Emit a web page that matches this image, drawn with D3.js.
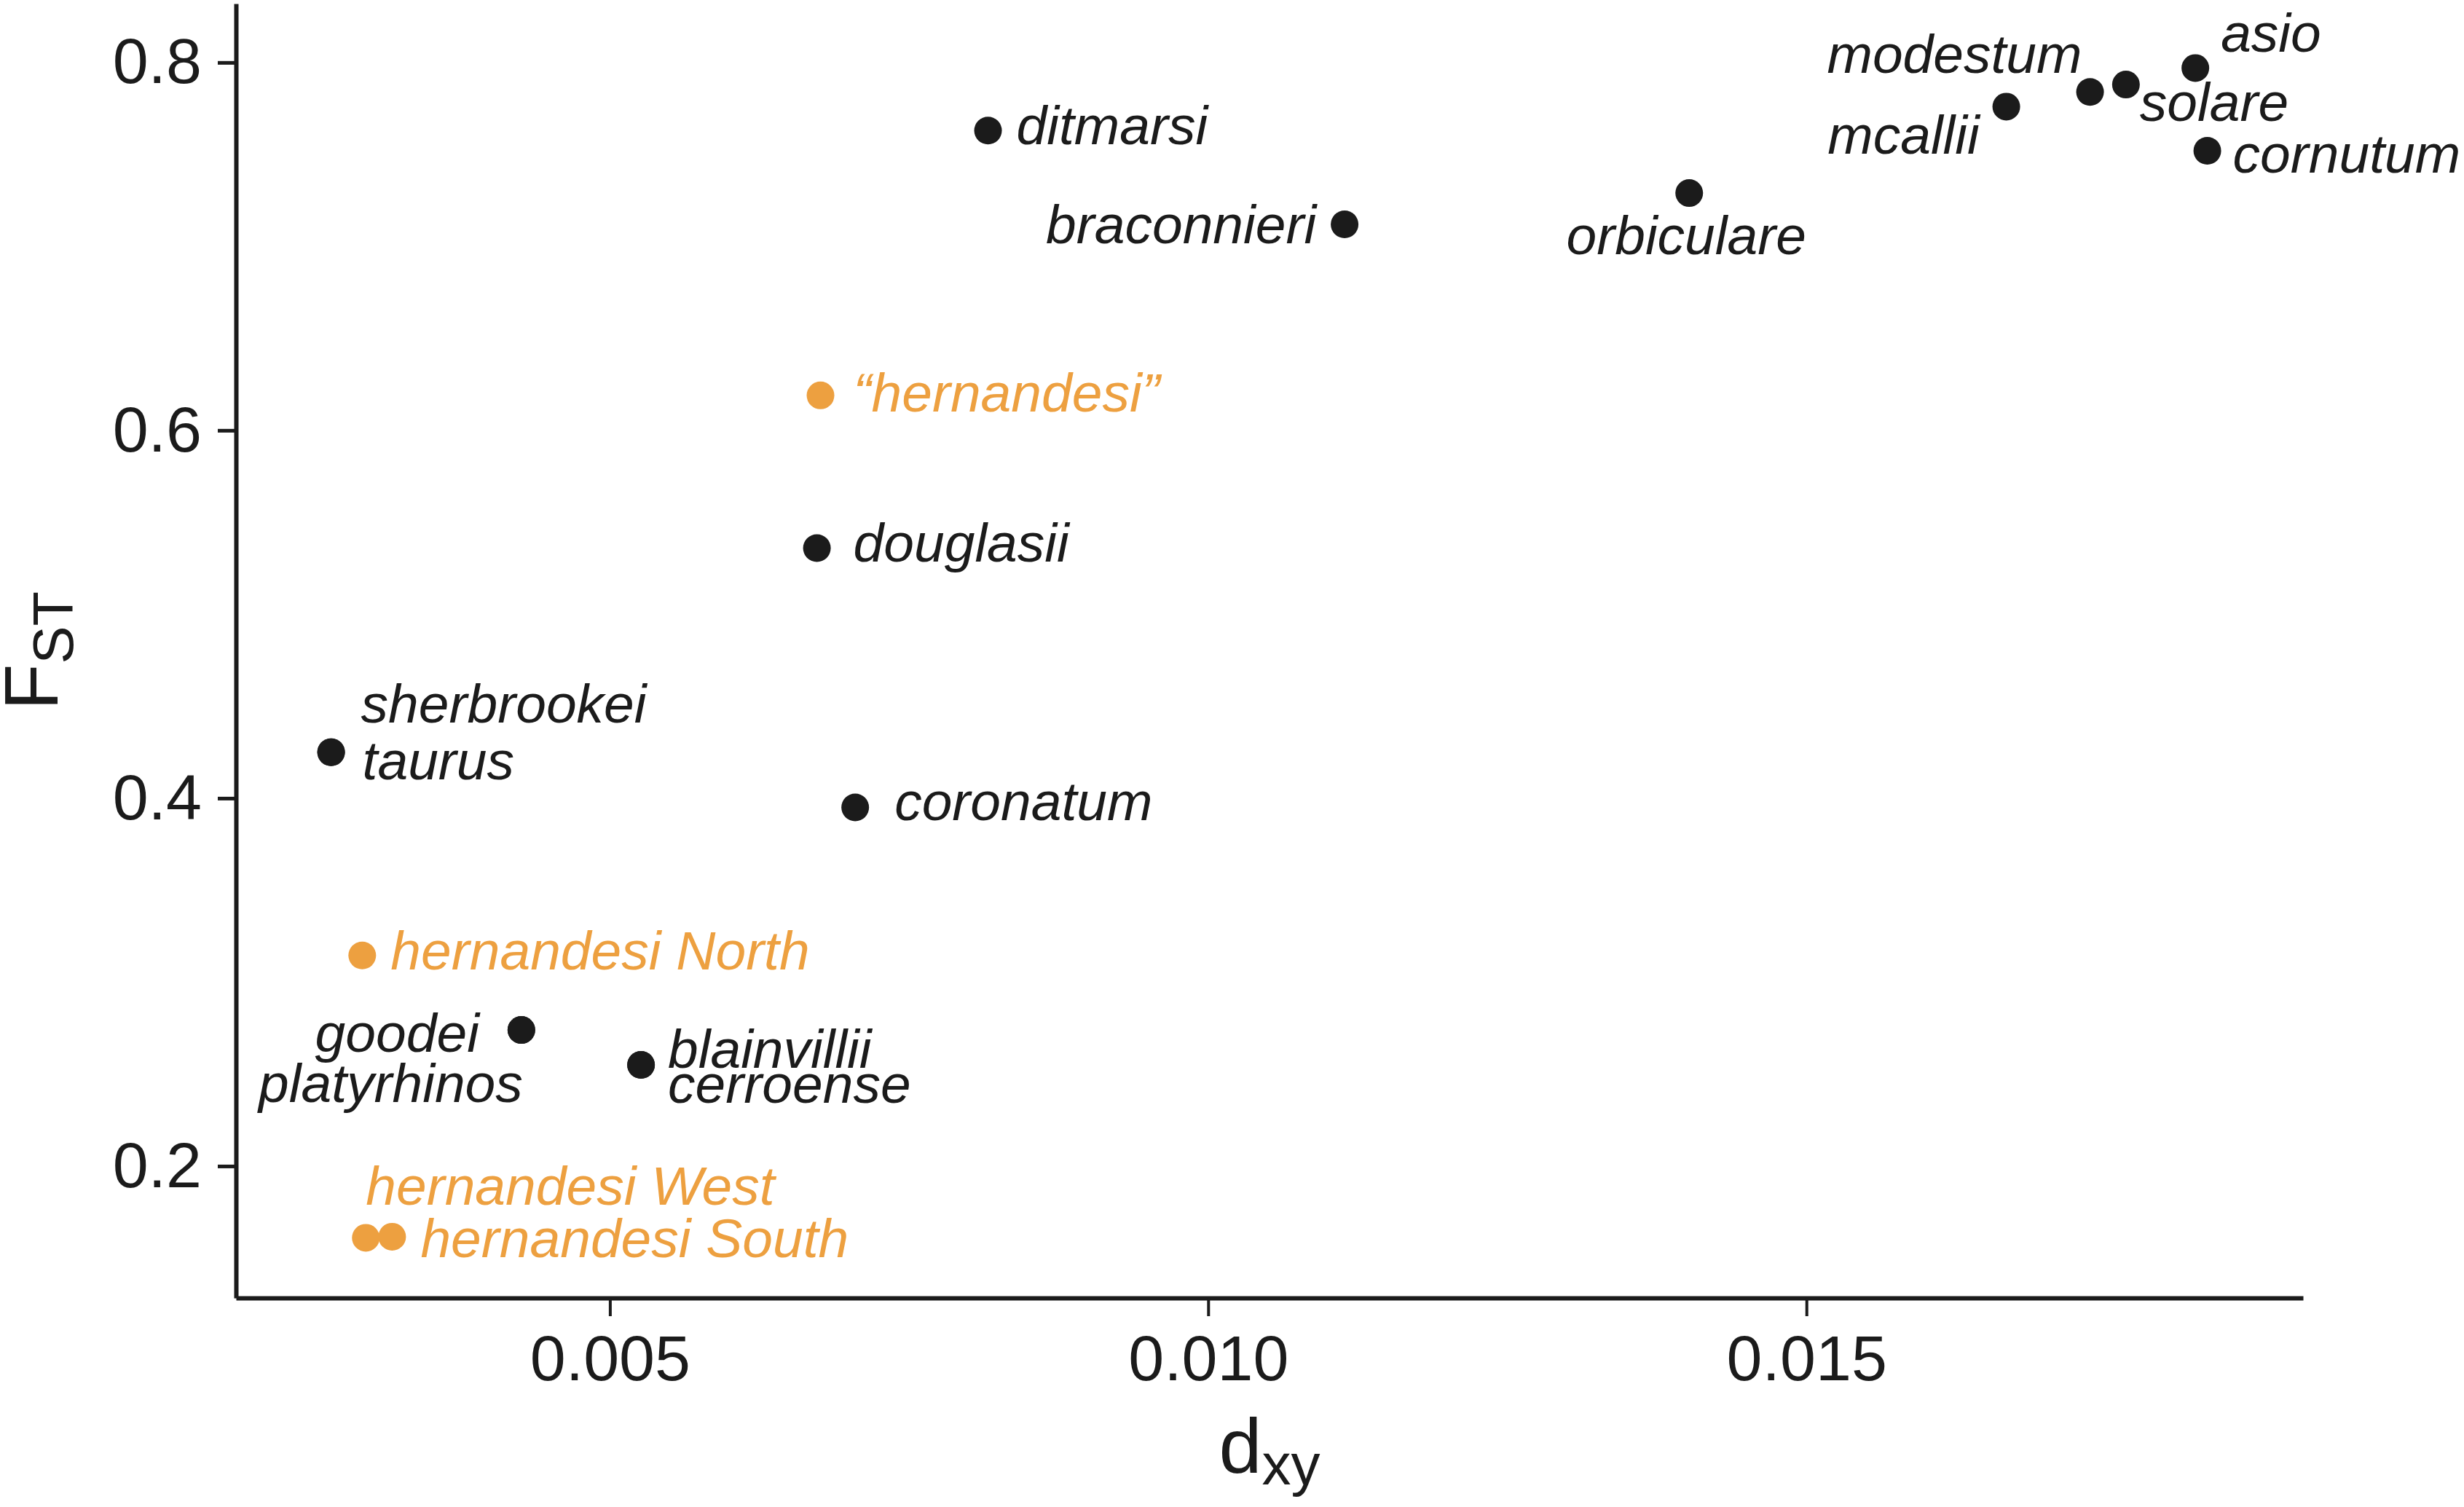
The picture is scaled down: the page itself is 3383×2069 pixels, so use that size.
<!DOCTYPE html>
<html>
<head>
<meta charset="utf-8">
<script src="https://cdn.jsdelivr.net/npm/d3@7"></script>
<style>
  html, body { margin: 0; padding: 0; background: #fff; }
  svg { display: block; font-family: "Liberation Sans", Arial, Helvetica, sans-serif; }
</style>
</head>
<body>
<svg id="chart" width="3383" height="2069"></svg>
<script>
// species / populations (some share the same point)
const names = [
  "ditmarsi", "braconnieri", "orbiculare", "mcallii", "modestum", "solare", "asio", "cornutum",
  "\u201Chernandesi\u201D", "douglasii", "sherbrookei", "taurus", "coronatum", "hernandesi North",
  "goodei", "platyrhinos", "blainvillii", "cerroense", "hernandesi West", "hernandesi South"
];
const dxy = [
  0.00816, 0.01114, 0.01402, 0.01667, 0.01737, 0.01767, 0.01825, 0.01835,
  0.00676, 0.00673, 0.00267, 0.00267, 0.00705, 0.00293,
  0.00426, 0.00426, 0.00526, 0.00526, 0.00296, 0.00318
];
const fst = [
  0.763, 0.712, 0.729, 0.776, 0.784, 0.788, 0.797, 0.752,
  0.619, 0.536, 0.425, 0.425, 0.395, 0.3145,
  0.274, 0.274, 0.255, 0.255, 0.161, 0.1616
];
const isHernandesi = [
  false, false, false, false, false, false, false, false,
  true, false, false, false, false, true,
  false, false, false, false, true, true
];
const xTicks = [0.005, 0.010, 0.015];
const yTicks = [0.2, 0.4, 0.6, 0.8];
const xDomain = [0.001875, 0.01915];
const yDomain = [0.1283, 0.832];

// label placement relative to the point (pixels)
const labelPos = {
  "ditmarsi": [39, 19, "start"],
  "braconnieri": [-39, 26, "end"],
  "orbiculare": [-4, 84, "middle"],
  "mcallii": [-37, 65, "end"],
  "modestum": [-11, -26, "end"],
  "solare": [19, 50, "start"],
  "asio": [35, -22, "start"],
  "cornutum": [35, 30, "start"],
  "\u201Chernandesi\u201D": [45, 22, "start"],
  "douglasii": [50, 19, "start"],
  "sherbrookei": [41, -41, "start"],
  "taurus": [43, 37, "start"],
  "coronatum": [54, 17, "start"],
  "hernandesi North": [39, 19, "start"],
  "goodei": [-58, 30, "end"],
  "platyrhinos": [2, 99, "end"],
  "blainvillii": [37, 4, "start"],
  "cerroense": [37, 52, "start"],
  "hernandesi West": [0, -45, "start"],
  "hernandesi South": [39, 28, "start"]
};

const black = "#1b1b1b";
const orange = "#eda040";

const points = names.map((n, i) => ({ name: n, x: dxy[i], y: fst[i], orange: isHernandesi[i] }));

const svg = d3.select("#chart");
const plotLeft = 324, plotRight = 3162, plotTop = 5, plotBottom = 1782;

const x = d3.scaleLinear().domain(xDomain).range([plotLeft, plotRight]);
const y = d3.scaleLinear().domain(yDomain).range([plotBottom, plotTop]);

// axes
const xAxis = svg.append("g")
  .attr("transform", `translate(0,${plotBottom})`)
  .call(d3.axisBottom(x).tickValues(xTicks).tickFormat(d3.format(".3f")).tickSize(25).tickSizeOuter(0).tickPadding(26));
xAxis.select(".domain").attr("stroke", black).attr("stroke-width", 6);
xAxis.selectAll(".tick line").attr("stroke", black).attr("stroke-width", 4);
xAxis.selectAll(".tick text").attr("font-size", 88).attr("fill", black)
  .attr("font-family", "Liberation Sans, Arial, sans-serif");

const yAxis = svg.append("g")
  .attr("transform", `translate(${plotLeft},0)`)
  .call(d3.axisLeft(y).tickValues(yTicks).tickFormat(d3.format(".1f")).tickSize(25).tickSizeOuter(0).tickPadding(22));
yAxis.select(".domain").attr("stroke", black).attr("stroke-width", 6);
yAxis.selectAll(".tick line").attr("stroke", black).attr("stroke-width", 5);
yAxis.selectAll(".tick text").attr("font-size", 88).attr("fill", black)
  .attr("font-family", "Liberation Sans, Arial, sans-serif");

// axis titles
const xt = svg.append("text")
  .attr("x", (plotLeft + plotRight) / 2)
  .attr("y", 2022)
  .attr("text-anchor", "middle")
  .attr("fill", black)
  .attr("font-size", 106);
xt.append("tspan").text("d");
xt.append("tspan").attr("dy", 16).attr("font-size", 80).text("xy");

const yt = svg.append("text")
  .attr("transform", `translate(79,${(plotTop + plotBottom) / 2}) rotate(-90)`)
  .attr("text-anchor", "middle")
  .attr("fill", black)
  .attr("font-size", 104);
yt.append("tspan").text("F");
yt.append("tspan").attr("dy", 21).attr("font-size", 78).text("ST");

// points
svg.append("g")
  .selectAll("circle")
  .data(points)
  .enter().append("circle")
  .attr("cx", d => x(d.x))
  .attr("cy", d => y(d.y))
  .attr("r", 19)
  .attr("fill", d => d.orange ? orange : black);

// labels
svg.append("g")
  .selectAll("text")
  .data(points)
  .enter().append("text")
  .attr("x", d => x(d.x) + labelPos[d.name][0])
  .attr("y", d => y(d.y) + labelPos[d.name][1])
  .attr("text-anchor", d => labelPos[d.name][2])
  .attr("font-size", 75)
  .attr("font-style", "italic")
  .attr("fill", d => d.orange ? orange : black)
  .text(d => d.name);
</script>
</body>
</html>
